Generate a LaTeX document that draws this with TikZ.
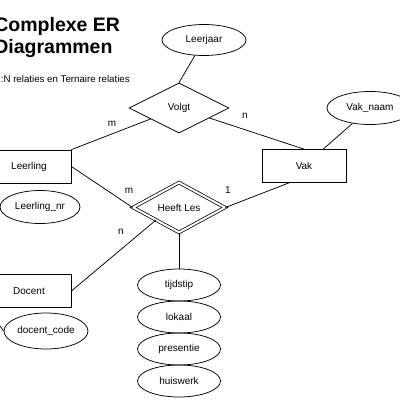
\documentclass[tikz,border=0pt]{standalone}
\usepackage{fontspec}
\setmainfont{Liberation Sans}
\usetikzlibrary{shapes.geometric}
\tikzset{
    entiteit/.style={draw, rectangle, minimum width=84pt, minimum height=33pt, inner sep=0pt},
    attribuut/.style={draw, ellipse, minimum width=84pt, minimum height=32pt, inner sep=0pt},
    relatie/.style={draw, diamond, minimum width=100pt, minimum height=50pt, inner sep=0pt},
    kardinaliteit/.style={inner sep=0pt}
}
\begin{document}
\begin{tikzpicture}[x=1pt, y=-1pt, line width=0.75pt, font=\fontsize{10}{12}\selectfont]
        \useasboundingbox (0,0) rectangle (400,400);
        \node[anchor=base west, inner sep=0pt, font=\fontsize{19.5}{22}\selectfont\bfseries] (titel1) at (-6,31) {Complexe ER};
        \node[anchor=base west, inner sep=0pt, font=\fontsize{19.5}{22}\selectfont\bfseries] (titel2) at (-6,53) {Diagrammen};
        \node[anchor=base west, inner sep=0pt, font=\fontsize{9.7}{12}\selectfont] (ondertitel) at (0.5,82) {:N relaties en Ternaire relaties};
        \node[attribuut, minimum height=31pt] (leerjaar) at (204,40) {Leerjaar};
        \node[relatie] (volgt) at (179,108) {Volgt};
        \node[entiteit] (leerling) at (29,166.5) {Leerling};
        \node[entiteit] (vak) at (304,166) {Vak};
        \node[entiteit] (docent) at (29,291) {Docent};
        \node[attribuut, minimum width=86pt, minimum height=33pt] (vaknaam) at (370,108) {Vak\_naam};
        \node[attribuut, minimum width=80pt, minimum height=33pt] (leerlingnr) at (40,207) {Leerling\_nr};
        \node[attribuut, minimum height=36pt] (docentcode) at (46,331) {docent\_code};
        \node[relatie, double, double distance=2pt, minimum width=92pt, minimum height=46pt] (heeftles) at (179,207.5) {Heeft Les};
        \node[attribuut, minimum width=83pt] (tijdstip) at (179,285) {tijdstip};
        \node[attribuut, minimum width=83pt] (lokaal) at (179,317) {lokaal};
        \node[attribuut, minimum width=83pt] (presentie) at (179,349) {presentie};
        \node[attribuut, minimum width=83pt] (huiswerk) at (179,381) {huiswerk};
        \node[kardinaliteit] (mvolgt) at (112,124) {m};
        \node[kardinaliteit] (nvolgt) at (245,116) {n};
        \node[kardinaliteit] (mles) at (129,191) {m};
        \node[kardinaliteit] (eenles) at (228,190) {1};
        \node[kardinaliteit] (nles) at (121,232) {n};
        \draw (leerjaar) -- (volgt.north);
        \draw (volgt) -- (leerling.north east);
        \draw (volgt) -- (vak.north);
        \draw (vaknaam) -- (vak);
        \draw (leerling.east) -- (heeftles.west);
        \draw (heeftles.east) -- ([xshift=-15pt]vak.south);
        \draw (docent.east) -- (heeftles.south west);
        \draw (heeftles.south) -- (tijdstip.north);
        \draw (docent.south west) -- (docentcode.west);
\end{tikzpicture}
\end{document}
